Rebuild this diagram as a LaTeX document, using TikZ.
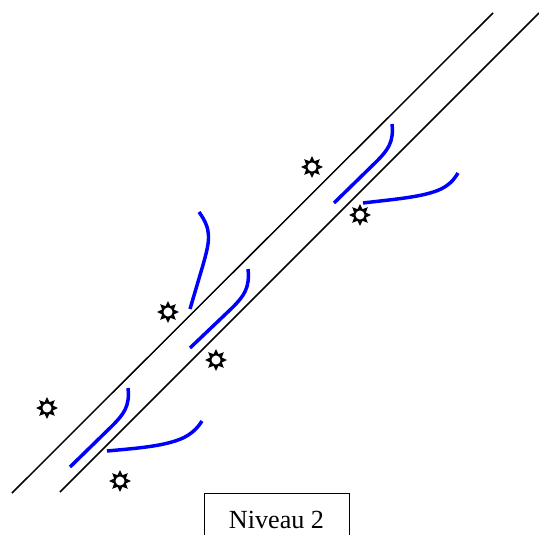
\documentclass[tikz,border=0pt]{standalone}
\usepackage{fontspec}
\setmainfont{Liberation Serif}
\usetikzlibrary{shapes.geometric}
\tikzset{
  wall/.style={draw=black, line width=1.1pt},
  trace/.style={draw=blue, line width=2.6pt, rounded corners=0pt},
  sun/.style={star, star points=8, star point ratio=1.75, fill=black, draw=none, minimum size=16.5pt, inner sep=0pt,
    path picture={\fill[white] (path picture bounding box.center) circle (3.4pt);}},
  levelbox/.style={draw=black, line width=1.1pt, minimum width=108.5pt, minimum height=48pt, anchor=north west, inner sep=0pt}
}
\begin{document}
\begin{tikzpicture}[x=0.75pt, y=-0.75pt, font=\rmfamily]
\useasboundingbox (0, 0) rectangle (539, 535);
\clip (0, 0) rectangle (539, 535);

% Corridor walls
\coordinate (wall1a) at (12, 493);
\coordinate (wall1b) at (493, 13);
\coordinate (wall2a) at (60, 492);
\coordinate (wall2b) at (539, 13);
\draw[wall] (wall1a) -- (wall1b);
\draw[wall] (wall2a) -- (wall2b);

% Blue traces
\draw[trace] (70, 467) -- (112, 426) .. controls (124, 414) and (130, 406) .. (128, 388);
\draw[trace] (107, 451) .. controls (140, 448) and (165, 446) .. (183, 438) .. controls (191, 434) and (197, 429) .. (202, 421);
\draw[trace] (190, 348) -- (232, 308) .. controls (244, 296) and (250, 288) .. (248, 269);
\draw[trace] (190, 309) -- (203, 265) .. controls (210, 240) and (212, 230) .. (199, 212);
\draw[trace] (334, 203) -- (376, 162) .. controls (388, 150) and (394, 142) .. (392, 124);
\draw[trace] (363, 203) .. controls (396, 199) and (424, 197) .. (441, 189) .. controls (449, 185) and (453, 181) .. (458, 173);

% Stars
\node[sun] (sun1) at (47, 408) {};
\node[sun] (sun2) at (120, 481) {};
\node[sun] (sun3) at (168, 312) {};
\node[sun] (sun4) at (216, 360) {};
\node[sun] (sun5) at (312, 167) {};
\node[sun] (sun6) at (360, 215) {};

% Label
\node[levelbox] (level) at (204, 493) {};
\node[font=\fontsize{19.6pt}{22pt}\selectfont] (leveltext) at (276.5, 520) {Niveau 2};
\end{tikzpicture}
\end{document}
